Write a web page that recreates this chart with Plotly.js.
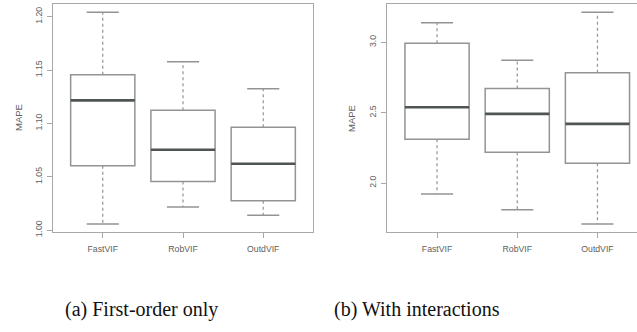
<!DOCTYPE html>
<html>
<head>
<meta charset="utf-8">
<script src="https://cdn.plot.ly/plotly-3.0.1.min.js"></script>
<style>html,body{margin:0;padding:0;background:#fff;}#chart{width:637px;height:332px;}</style>
</head>
<body>
<div id="chart"></div>
<script>
// Data
const categories = ["FastVIF", "RobVIF", "OutdVIF"];
// Panel (a): First-order only
const aLower  = [1.0056, 1.0216, 1.0138];
const aQ1     = [1.0603, 1.0456, 1.0275];
const aMedian = [1.1216, 1.0753, 1.0622];
const aQ3     = [1.1456, 1.1122, 1.0963];
const aUpper  = [1.2041, 1.1578, 1.1325];
const aTicks  = [1.00, 1.05, 1.10, 1.15, 1.20];
const aTickText = ["1.00", "1.05", "1.10", "1.15", "1.20"];
// Panel (b): With interactions
const bLower  = [1.922, 1.810, 1.709];
const bQ1     = [2.311, 2.218, 2.140];
const bMedian = [2.538, 2.491, 2.420];
const bQ3     = [2.993, 2.671, 2.784];
const bUpper  = [3.139, 2.872, 3.213];
const bTicks  = [2.0, 2.5, 3.0];
const bTickText = ["2.0", "2.5", "3.0"];
const captions = ["(a) First-order only", "(b) With interactions"];
const yLabel = "MAPE";

const boxCol = "#939393", medCol = "#4f5552", txtCol = "#606060", frameCol = "#a8a8a8";
const pos = categories.map((c, i) => i + 1);

function panel(lo, q1, med, q3, up, xa, ya) {
  const tr = [];
  tr.push({type: "box", x: pos, q1: q1, median: med, q3: q3, lowerfence: q1, upperfence: q3,
    width: 0.8, whiskerwidth: 0, fillcolor: "white", line: {color: boxCol, width: 1.5},
    xaxis: xa, yaxis: ya, hoverinfo: "skip", showlegend: false});
  const wx = [], wy = [], cx = [], cy = [], mx = [], my = [];
  pos.forEach((p, i) => {
    wx.push(p, p, null, p, p, null);
    wy.push(q3[i], up[i], null, q1[i], lo[i], null);
    cx.push(p - 0.2, p + 0.2, null, p - 0.2, p + 0.2, null);
    cy.push(up[i], up[i], null, lo[i], lo[i], null);
    mx.push(p - 0.4, p + 0.4, null);
    my.push(med[i], med[i], null);
  });
  tr.push({type: "scatter", mode: "lines", x: wx, y: wy, line: {color: boxCol, width: 1.2, dash: "dot"},
    xaxis: xa, yaxis: ya, hoverinfo: "skip", showlegend: false});
  tr.push({type: "scatter", mode: "lines", x: cx, y: cy, line: {color: boxCol, width: 1.5},
    xaxis: xa, yaxis: ya, hoverinfo: "skip", showlegend: false});
  tr.push({type: "scatter", mode: "lines", x: mx, y: my, line: {color: medCol, width: 2.6},
    xaxis: xa, yaxis: ya, hoverinfo: "skip", showlegend: false});
  return tr;
}

const data = [].concat(
  panel(aLower, aQ1, aMedian, aQ3, aUpper, "x", "y"),
  panel(bLower, bQ1, bMedian, bQ3, bUpper, "x2", "y2")
);

const tickFont = {family: "Liberation Sans, Arial, sans-serif", size: 8.7, color: txtCol};
const yDom = [(332 - 232) / 332, (332 - 4) / 332];
function xAxis(dom, range, mirror) {
  return {domain: dom, range: range, tickvals: pos, ticktext: categories, ticks: "outside",
    ticklen: 5, tickcolor: frameCol, tickwidth: 1, showline: true, linecolor: frameCol, linewidth: 1,
    mirror: mirror, showgrid: false, zeroline: false, tickfont: tickFont, ticklabelstandoff: 4, fixedrange: true};
}
function yAxis(anchor, range, tv, tt, mirror) {
  return {anchor: anchor, domain: yDom, range: range, tickvals: tv, ticktext: tt, tickangle: -90,
    ticks: "outside", ticklen: 5, tickcolor: frameCol, tickwidth: 1, showline: true, linecolor: frameCol,
    linewidth: 1, mirror: mirror, showgrid: false, zeroline: false, tickfont: tickFont, ticklabelstandoff: 2, fixedrange: true};
}

const capFont = {family: "Liberation Serif, Times New Roman, serif", size: 20, color: "#111"};
const layout = {
  width: 637, height: 332, margin: {l: 0, r: 0, t: 0, b: 0}, paper_bgcolor: "white", plot_bgcolor: "white",
  showlegend: false,
  xaxis: Object.assign(xAxis([53 / 637, 313 / 637], [0.38, 3.62], true), {anchor: "y"}),
  yaxis: yAxis("x", [0.9982, 1.2119], aTicks, aTickText, true),
  xaxis2: Object.assign(xAxis([387.3 / 637, 1], [0.38, 3.493], true), {anchor: "y2"}),
  yaxis2: yAxis("x2", [1.652, 3.272], bTicks, bTickText, false),
  annotations: [
    {text: yLabel, xref: "paper", yref: "paper", x: 18 / 637, y: (332 - 118) / 332, textangle: -90,
      showarrow: false, font: Object.assign({}, tickFont, {size: 9.5}), xanchor: "center", yanchor: "middle"},
    {text: yLabel, xref: "paper", yref: "paper", x: 351 / 637, y: (332 - 118) / 332, textangle: -90,
      showarrow: false, font: Object.assign({}, tickFont, {size: 9.5}), xanchor: "center", yanchor: "middle"},
    {text: captions[0], xref: "paper", yref: "paper", x: 141.7 / 637, y: (332 - 309) / 332,
      showarrow: false, font: capFont, xanchor: "center", yanchor: "middle"},
    {text: captions[1], xref: "paper", yref: "paper", x: 416.7 / 637, y: (332 - 309) / 332,
      showarrow: false, font: capFont, xanchor: "center", yanchor: "middle"}
  ]
};

Plotly.newPlot("chart", data, layout, {displayModeBar: false, staticPlot: true});
</script>
</body>
</html>
